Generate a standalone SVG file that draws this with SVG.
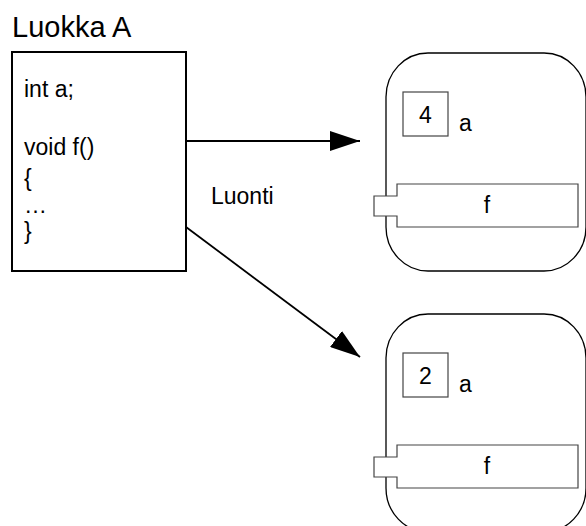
<svg xmlns="http://www.w3.org/2000/svg" width="586" height="526" viewBox="0 0 586 526">
<style>
text{font-family:"Liberation Sans",Arial,sans-serif;fill:#000}
.t{font-size:23px}
.title{font-size:29px}
.cls{fill:#fff;stroke:#000;stroke-width:2}
.obj{fill:#fff;stroke:#000;stroke-width:1.3}
.slot{fill:#fff;stroke:#444;stroke-width:1.2}
.conn{stroke:#000;stroke-width:1.8;fill:none;marker-end:url(#ah)}
</style>
<defs>
<marker id="ah" markerUnits="userSpaceOnUse" markerWidth="31" markerHeight="20" refX="30" refY="10" orient="auto">
<path d="M0,0 L30,10 L0,20 z" fill="#000"/>
</marker>
</defs>
<rect width="586" height="526" fill="#fff"/>
<g id="classA">
<text class="title" x="12" y="37">Luokka A</text>
<rect class="cls" x="12" y="52" width="174" height="219"/>
<text class="t" x="24" y="97">int a;</text>
<text class="t" x="24" y="155">void f()</text>
<text class="t" x="24" y="186">{</text>
<text class="t" x="24" y="213">…</text>
<text class="t" x="24" y="239">}</text>
</g>
<g id="connectors">
<line class="conn" x1="186" y1="141" x2="360" y2="141"/>
<line class="conn" x1="186" y1="227" x2="360" y2="357"/>
<text class="t" x="211" y="204">Luonti</text>
</g>
<g id="object1">
<rect class="obj" x="386" y="53" width="200" height="218" rx="42" ry="44"/>
<rect class="slot" x="403" y="92" width="45" height="44"/>
<text class="t" x="425.5" y="123" text-anchor="middle">4</text>
<text class="t" x="459" y="131">a</text>
<path class="slot" d="M397,184 L578,184 L578,227 L397,227 L397,216 L374,216 L374,196 L397,196 Z"/>
<text class="t" x="487" y="213" text-anchor="middle">f</text>
</g>
<g id="object2">
<rect class="obj" x="386" y="314" width="200" height="218" rx="42" ry="44"/>
<rect class="slot" x="403" y="353" width="45" height="44"/>
<text class="t" x="425.5" y="384" text-anchor="middle">2</text>
<text class="t" x="459" y="392">a</text>
<path class="slot" d="M397,445 L578,445 L578,488 L397,488 L397,477 L374,477 L374,457 L397,457 Z"/>
<text class="t" x="487" y="474" text-anchor="middle">f</text>
</g>
</svg>
